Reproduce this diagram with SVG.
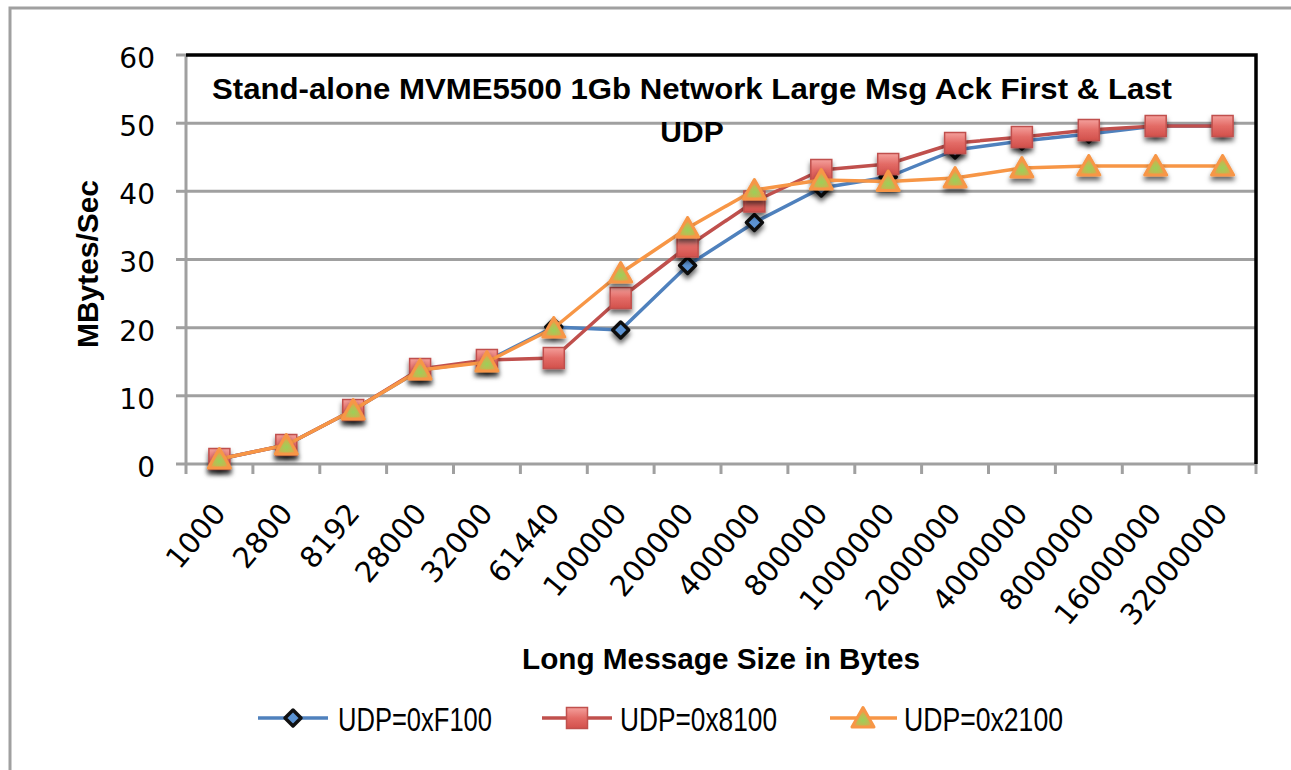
<svg xmlns="http://www.w3.org/2000/svg" width="1291" height="770" viewBox="0 0 1291 770">
<style>
.grid{stroke:#a0a0a0;stroke-width:3;fill:none}
.tick{stroke:#a0a0a0;stroke-width:3}
.ylab{font-family:"DejaVu Sans","Liberation Sans",sans-serif;font-size:28px;fill:#000;text-anchor:end}
.xlab{font-family:"DejaVu Sans","Liberation Sans",sans-serif;font-size:29px;fill:#000;text-anchor:end}
.title{font-family:"Liberation Sans",Arial,sans-serif;font-weight:bold;font-size:30px;fill:#000}
.axt{font-family:"Liberation Sans",Arial,sans-serif;font-weight:bold;font-size:30px;fill:#000;text-anchor:middle}
.leg{font-family:"Liberation Sans",Arial,sans-serif;font-size:33px;fill:#000}
.lb{stroke:#4f81bd;stroke-width:3.5;fill:none;stroke-linejoin:round}
.lr{stroke:#c0504d;stroke-width:3.5;fill:none;stroke-linejoin:round}
.lo{stroke:#f79646;stroke-width:3.5;fill:none;stroke-linejoin:round}
</style>
<defs>
<filter id="sh" x="-60%" y="-60%" width="220%" height="240%">
<feDropShadow dx="0" dy="4" stdDeviation="2.5" flood-color="#000" flood-opacity="0.6"/>
</filter>
<linearGradient id="gr" x1="0" y1="0" x2="0" y2="1">
<stop offset="0" stop-color="#f4a09c"/><stop offset="0.5" stop-color="#e36b66"/><stop offset="1" stop-color="#d2504b"/>
</linearGradient>
<radialGradient id="go" cx="0.5" cy="0.65" r="0.5">
<stop offset="0" stop-color="#9bd05a"/><stop offset="0.6" stop-color="#c3b84f"/><stop offset="1" stop-color="#f79646"/>
</radialGradient>
<g id="mb"><polygon points="0,-8 8,0 0,8 -8,0" fill="#5b93d3" stroke="#111" stroke-width="3.5" stroke-linejoin="round"/></g>
<g id="mr"><rect x="-10.5" y="-10.5" width="21" height="21" fill="url(#gr)" stroke="#c0504d" stroke-width="1.5"/></g>
<g id="mo"><polygon points="0,-10.5 11,9 -11,9" fill="url(#go)" stroke="#f79646" stroke-width="3" stroke-linejoin="round"/></g>
</defs>
<rect width="1291" height="770" fill="#fff"/>
<polyline points="10,770 10,8 1291,8" fill="none" stroke="#a0a0a0" stroke-width="3"/>

<g id="gridlines">
<line class="grid" x1="186" y1="123.2" x2="1256" y2="123.2"/>
<line class="grid" x1="186" y1="191.3" x2="1256" y2="191.3"/>
<line class="grid" x1="186" y1="259.5" x2="1256" y2="259.5"/>
<line class="grid" x1="186" y1="327.7" x2="1256" y2="327.7"/>
<line class="grid" x1="186" y1="395.8" x2="1256" y2="395.8"/>
</g>
<g id="axes">
<line class="tick" x1="176" y1="55" x2="186" y2="55"/>
<line class="tick" x1="176" y1="123.2" x2="186" y2="123.2"/>
<line class="tick" x1="176" y1="191.3" x2="186" y2="191.3"/>
<line class="tick" x1="176" y1="259.5" x2="186" y2="259.5"/>
<line class="tick" x1="176" y1="327.7" x2="186" y2="327.7"/>
<line class="tick" x1="176" y1="395.8" x2="186" y2="395.8"/>
<line class="tick" x1="176" y1="464" x2="1256" y2="464"/>
<line class="tick" x1="186" y1="55" x2="186" y2="474"/>
<g class="tick">
<line x1="252.9" y1="464" x2="252.9" y2="474"/><line x1="319.8" y1="464" x2="319.8" y2="474"/><line x1="386.6" y1="464" x2="386.6" y2="474"/><line x1="453.5" y1="464" x2="453.5" y2="474"/><line x1="520.4" y1="464" x2="520.4" y2="474"/><line x1="587.3" y1="464" x2="587.3" y2="474"/><line x1="654.1" y1="464" x2="654.1" y2="474"/><line x1="721" y1="464" x2="721" y2="474"/><line x1="787.9" y1="464" x2="787.9" y2="474"/><line x1="854.8" y1="464" x2="854.8" y2="474"/><line x1="921.6" y1="464" x2="921.6" y2="474"/><line x1="988.5" y1="464" x2="988.5" y2="474"/><line x1="1055.4" y1="464" x2="1055.4" y2="474"/><line x1="1122.3" y1="464" x2="1122.3" y2="474"/><line x1="1189.1" y1="464" x2="1189.1" y2="474"/><line x1="1256" y1="464" x2="1256" y2="474"/>
</g>
<polyline points="186,55 1256,55 1256,464" fill="none" stroke="#000" stroke-width="3.5"/>
</g>

<g id="y-labels">
<text class="ylab" x="155" y="68">60</text>
<text class="ylab" x="155" y="136">50</text>
<text class="ylab" x="155" y="204">40</text>
<text class="ylab" x="155" y="272">30</text>
<text class="ylab" x="155" y="341">20</text>
<text class="ylab" x="155" y="409">10</text>
<text class="ylab" x="155" y="477">0</text>
</g>
<g id="x-labels">
<text class="xlab" transform="translate(227,514) rotate(-50)">1000</text>
<text class="xlab" transform="translate(294,514) rotate(-50)">2800</text>
<text class="xlab" transform="translate(361,514) rotate(-50)">8192</text>
<text class="xlab" transform="translate(428,514) rotate(-50)">28000</text>
<text class="xlab" transform="translate(494,514) rotate(-50)">32000</text>
<text class="xlab" transform="translate(561,514) rotate(-50)">61440</text>
<text class="xlab" transform="translate(628,514) rotate(-50)">100000</text>
<text class="xlab" transform="translate(695,514) rotate(-50)">200000</text>
<text class="xlab" transform="translate(762,514) rotate(-50)">400000</text>
<text class="xlab" transform="translate(829,514) rotate(-50)">800000</text>
<text class="xlab" transform="translate(896,514) rotate(-50)">1000000</text>
<text class="xlab" transform="translate(962,514) rotate(-50)">2000000</text>
<text class="xlab" transform="translate(1029,514) rotate(-50)">4000000</text>
<text class="xlab" transform="translate(1096,514) rotate(-50)">8000000</text>
<text class="xlab" transform="translate(1163,514) rotate(-50)">16000000</text>
<text class="xlab" transform="translate(1229,514) rotate(-50)">32000000</text>
</g>

<g id="title">
<text class="title" x="212" y="99" textLength="960" lengthAdjust="spacingAndGlyphs">Stand-alone MVME5500 1Gb Network Large Msg Ack First &amp; Last</text>
<text class="title" x="692" y="142" text-anchor="middle">UDP</text>
</g>
<g id="axis-titles">
<text class="axt" transform="translate(98,264) rotate(-90)" textLength="168" lengthAdjust="spacingAndGlyphs">MBytes/Sec</text>
<text class="axt" x="721" y="669" textLength="398" lengthAdjust="spacingAndGlyphs">Long Message Size in Bytes</text>
</g>

<g id="series-F100">
<polyline class="lb" points="219.4,459 286.3,445 353.2,410 420.1,370 486.9,361 553.8,327 620.7,330 687.6,265.5 754.4,222.5 821.3,188 888.2,177 955.1,150 1021.9,141 1088.8,134 1155.7,126 1222.6,126"/>
<g filter="url(#sh)">
<use href="#mb" x="219.4" y="459"/><use href="#mb" x="286.3" y="445"/><use href="#mb" x="353.2" y="410"/><use href="#mb" x="420.1" y="370"/><use href="#mb" x="486.9" y="361"/><use href="#mb" x="553.8" y="327"/><use href="#mb" x="620.7" y="330"/><use href="#mb" x="687.6" y="265.5"/><use href="#mb" x="754.4" y="222.5"/><use href="#mb" x="821.3" y="188"/><use href="#mb" x="888.2" y="177"/><use href="#mb" x="955.1" y="150"/><use href="#mb" x="1021.9" y="141"/><use href="#mb" x="1088.8" y="134"/><use href="#mb" x="1155.7" y="126"/><use href="#mb" x="1222.6" y="126"/>
</g>
</g>
<g id="series-8100">
<polyline class="lr" points="219.4,459 286.3,445 353.2,410 420.1,369 486.9,360 553.8,358 620.7,298 687.6,246.5 754.4,201.5 821.3,170 888.2,164 955.1,143 1021.9,137 1088.8,130 1155.7,126 1222.6,126"/>
<g filter="url(#sh)">
<use href="#mr" x="219.4" y="459"/><use href="#mr" x="286.3" y="445"/><use href="#mr" x="353.2" y="410"/><use href="#mr" x="420.1" y="369"/><use href="#mr" x="486.9" y="360"/><use href="#mr" x="553.8" y="358"/><use href="#mr" x="620.7" y="298"/><use href="#mr" x="687.6" y="246.5"/><use href="#mr" x="754.4" y="201.5"/><use href="#mr" x="821.3" y="170"/><use href="#mr" x="888.2" y="164"/><use href="#mr" x="955.1" y="143"/><use href="#mr" x="1021.9" y="137"/><use href="#mr" x="1088.8" y="130"/><use href="#mr" x="1155.7" y="126"/><use href="#mr" x="1222.6" y="126"/>
</g>
</g>
<g id="series-2100">
<polyline class="lo" points="219.4,459 286.3,445 353.2,410 420.1,370 486.9,362 553.8,328 620.7,273 687.6,228 754.4,190 821.3,180 888.2,181.5 955.1,178 1021.9,168 1088.8,166 1155.7,166 1222.6,166"/>
<g filter="url(#sh)">
<use href="#mo" x="219.4" y="459"/><use href="#mo" x="286.3" y="445"/><use href="#mo" x="353.2" y="410"/><use href="#mo" x="420.1" y="370"/><use href="#mo" x="486.9" y="362"/><use href="#mo" x="553.8" y="328"/><use href="#mo" x="620.7" y="273"/><use href="#mo" x="687.6" y="228"/><use href="#mo" x="754.4" y="190"/><use href="#mo" x="821.3" y="180"/><use href="#mo" x="888.2" y="181.5"/><use href="#mo" x="955.1" y="178"/><use href="#mo" x="1021.9" y="168"/><use href="#mo" x="1088.8" y="166"/><use href="#mo" x="1155.7" y="166"/><use href="#mo" x="1222.6" y="166"/>
</g>
</g>

<g id="legend">
<line class="lb" x1="258" y1="718" x2="328" y2="718"/>
<use href="#mb" x="293" y="718"/>
<text class="leg" x="338" y="731" textLength="154" lengthAdjust="spacingAndGlyphs">UDP=0xF100</text>
<line class="lr" x1="542" y1="718" x2="612" y2="718"/>
<use href="#mr" x="577" y="718"/>
<text class="leg" x="620" y="731" textLength="157" lengthAdjust="spacingAndGlyphs">UDP=0x8100</text>
<line class="lo" x1="830" y1="718" x2="897" y2="718"/>
<use href="#mo" x="863" y="718"/>
<text class="leg" x="904" y="731" textLength="159" lengthAdjust="spacingAndGlyphs">UDP=0x2100</text>
</g>
</svg>
